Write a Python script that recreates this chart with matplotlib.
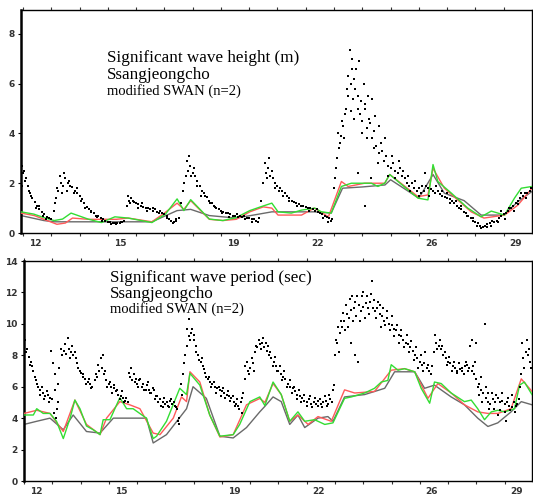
import numpy as np
import matplotlib
matplotlib.use("Agg")
import matplotlib.pyplot as plt

# ================================
# DATA (days of month)
# ================================

# observed Hs (m), 2-hourly from day 12.0
obs_hs = [
    2.4, 2.1, 1.9, 1.6, 1.4, 1.25, 1.1, 0.95, 0.85, 0.75, 0.65, 0.6,
    0.55, 0.9, 1.4, 1.7, 2.0, 1.9, 2.2, 2.0, 1.9, 1.85, 1.7, 1.6,
    1.5, 1.35, 1.2, 1.05, 0.95, 0.85, 0.8, 0.7, 0.7, 0.6, 0.55, 0.5,
    0.45, 0.45, 0.4, 0.4, 0.42, 0.4, 0.45, 0.5, 1.1, 1.3, 1.4, 1.25,
    1.2, 1.15, 1.1, 1.05, 1.0, 1.0, 0.95, 0.9, 0.95, 0.85, 0.9, 0.8,
    0.75, 0.6, 0.55, 0.5, 0.45, 0.5, 0.6, 1.2, 1.7, 2.3, 2.5, 2.7,
    2.4, 2.3, 2.1, 1.9, 1.7, 1.6, 1.45, 1.3, 1.2, 1.1, 1.0, 0.95,
    0.9, 0.85, 0.8, 0.8, 0.75, 0.7, 0.7, 0.75, 0.7, 0.65, 0.7, 0.6,
    0.6, 0.55, 0.55, 0.5, 0.6, 1.3, 2.0, 2.4, 2.6, 2.3, 2.2, 2.0,
    1.9, 1.8, 1.7, 1.6, 1.5, 1.4, 1.3, 1.25, 1.2, 1.15, 1.1, 1.1,
    1.05, 1.0, 1.0, 0.95, 0.9, 0.85, 0.8, 0.75, 0.7, 0.65, 0.6, 0.55,
    1.8, 2.6, 3.4, 3.9, 4.3, 5.0, 5.5, 6.0, 5.4, 5.8, 5.0, 4.8,
    4.5, 5.2, 4.2, 4.6, 3.8, 4.1, 3.5, 3.2, 3.6, 2.9, 3.1, 2.7,
    2.6, 2.8, 2.5, 2.4, 2.6, 2.3, 2.2, 2.0, 1.9, 2.0, 1.8, 1.7,
    1.8, 1.6, 1.7, 1.9, 1.8, 1.75, 1.7, 1.6, 1.7, 1.55, 1.5, 1.45,
    1.4, 1.35, 1.3, 1.2, 1.1, 1.0, 0.95, 0.85, 0.8, 0.7, 0.6, 0.5,
    0.45, 0.4, 0.3, 0.25, 0.3, 0.35, 0.4, 0.5, 0.45, 0.5, 0.6, 0.7,
    0.75, 0.8, 0.9, 1.0, 1.1, 1.2, 1.3, 1.4, 1.5, 1.6, 1.6, 1.7,
]

# scattered extra observations (Hs)
hs_extra_t = [
    11.95, 11.98, 12.05, 12.12, 12.2, 12.3, 12.45, 12.55, 12.7, 12.8,
    13.12, 13.2, 13.3, 13.38, 13.45, 13.55, 13.62, 13.8, 13.9, 14.05, 14.2, 14.4, 14.6, 14.8, 15.1, 15.3, 15.45,
    15.7, 15.78, 15.88, 16.05, 16.2, 16.38, 16.6, 16.8, 17.1, 17.3, 17.4,
    17.7, 17.8, 17.88, 17.95, 18.05, 18.15, 18.3, 18.45, 18.6, 18.8, 19.05, 19.3, 19.6, 19.85, 20.1, 20.3,
    20.55, 20.62, 20.7, 20.8, 20.9, 21.05, 21.2, 21.4, 21.7, 22.1, 22.4, 22.6, 22.8, 22.9,
    23.05, 23.1, 23.15, 23.2, 23.28, 23.35, 23.4, 23.45, 23.5, 23.55, 23.6, 23.62, 23.65, 23.7, 23.72,
    23.78, 23.85, 23.88, 23.95, 24.0, 24.05, 24.1, 24.15, 24.2, 24.28, 24.35, 24.4, 24.45, 24.55, 24.6,
    24.7, 24.8, 24.9, 25.05, 25.15, 25.3, 25.45, 25.6, 25.7, 25.85, 26.0, 26.1, 26.2, 26.35, 26.6, 26.8,
    27.0, 27.1, 27.3, 27.5, 27.7, 27.9, 28.05, 28.2, 28.4, 28.55, 28.8, 28.9, 29.05, 29.2, 29.35, 29.5,
    29.6, 29.8, 29.95, 24.1, 23.85, 24.3,
]
hs_extra_v = [
    2.7, 1.9, 2.5, 2.2, 1.7, 1.5, 1.0, 1.1, 0.7, 0.55,
    1.2, 1.8, 2.3, 1.6, 2.4, 1.7, 2.1, 1.6, 1.8, 1.3, 1.0, 0.9, 0.65, 0.5, 0.35, 0.35, 0.45,
    1.5, 1.2, 1.3, 1.0, 1.2, 0.9, 1.0, 0.8, 0.7, 0.4, 0.55,
    2.0, 2.9, 3.1, 2.3, 2.6, 1.9, 1.5, 1.5, 1.2, 1.05, 0.8, 0.65, 0.65, 0.55, 0.45, 0.45,
    2.8, 2.2, 3.0, 2.5, 1.8, 1.7, 1.5, 1.3, 1.1, 0.9, 0.95, 0.6, 0.45, 0.5,
    2.2, 3.0, 4.0, 3.6, 4.5, 3.8, 4.8, 5.8, 6.3, 7.35, 4.9, 6.6, 7.0, 6.2, 4.6,
    6.6, 5.5, 6.9, 5.3, 4.0, 6.0, 5.0, 3.8, 5.5, 4.4, 5.4, 3.4, 4.7, 2.8, 4.3,
    3.3, 3.8, 2.3, 3.1, 2.2, 2.9, 2.5, 2.3, 1.7, 2.1, 1.5, 1.9, 2.4, 1.5, 1.9, 1.7,
    1.6, 1.2, 1.3, 1.1, 0.7, 0.6, 0.3, 0.2, 0.25, 0.3, 0.45, 0.9, 0.55, 1.0, 0.9, 1.15,
    1.6, 1.4, 1.8, 1.1, 2.4, 2.2,
]

# model Hs (m)
hs_green_t = [11.93, 12.38, 12.74, 13.1, 13.4, 13.7, 14.3, 14.77, 15.25, 15.72, 16.56, 17.04, 17.45, 17.69,
              17.93, 18.59, 19.07, 19.54, 20.02, 20.4, 20.8, 21.02, 21.49, 21.85, 22.32, 22.55, 22.9, 23.26,
              23.61, 24.08, 24.32, 24.55, 24.79, 24.97, 25.26, 25.97, 26.32, 26.5, 26.67, 27.15, 27.73, 28.2,
              28.56, 29.03, 29.38, 29.62, 30.0]
hs_green_v = [0.85, 0.76, 0.62, 0.5, 0.56, 0.8, 0.56, 0.42, 0.65, 0.6, 0.42, 0.76, 1.37, 0.9,
              1.34, 0.56, 0.5, 0.62, 0.9, 1.05, 1.2, 0.85, 0.8, 0.92, 1.0, 0.85, 0.8, 1.87,
              2.0, 2.0, 2.0, 1.87, 2.0, 2.35, 2.07, 1.4, 1.33, 2.75, 2.07, 1.6, 1.0, 0.65,
              0.88, 0.72, 1.4, 1.8, 1.87]
hs_red_t = [11.93, 12.4, 12.74, 13.2, 13.5, 13.75, 14.3, 14.8, 15.3, 15.72, 16.56, 17.0, 17.45, 17.69,
            17.93, 18.59, 19.07, 19.54, 20.02, 20.5, 20.8, 21.02, 21.85, 22.3, 22.8, 23.26, 23.5, 24.08,
            24.79, 24.97, 25.97, 26.32, 26.5, 26.9, 27.85, 28.3, 29.03, 29.5, 30.0]
hs_red_v = [0.8, 0.7, 0.55, 0.35, 0.4, 0.6, 0.55, 0.55, 0.55, 0.6, 0.45, 0.8, 1.2, 0.95,
            1.3, 0.55, 0.5, 0.55, 0.85, 1.05, 1.0, 0.72, 0.72, 1.0, 0.65, 2.07, 1.87, 2.0,
            2.0, 2.35, 1.46, 1.53, 2.6, 1.8, 0.85, 0.6, 0.72, 1.12, 1.8]
hs_gray_t = [11.93, 12.74, 13.1, 14.3, 15.25, 16.56, 17.45, 17.93, 18.59, 19.54, 20.3, 20.8, 21.5, 22.3,
             22.9, 23.3, 24.0, 24.8, 25.0, 26.0, 26.5, 26.9, 27.6, 28.2, 29.0, 29.5, 30.0]
hs_gray_v = [0.7, 0.5, 0.45, 0.45, 0.45, 0.45, 0.9, 0.95, 0.7, 0.6, 0.75, 0.85, 0.85, 0.85,
             0.8, 1.8, 1.85, 1.93, 2.14, 1.4, 2.35, 1.6, 1.3, 0.72, 0.72, 1.26, 1.67]

# observed Tp (sec), 2-hourly from day 12.0
obs_tp = [
    8.6, 8.2, 7.9, 7.6, 7.0, 6.4, 6.0, 5.8, 5.6, 5.4, 5.5, 5.3,
    5.2, 6.8, 4.6, 7.2, 8.0, 8.3, 8.1, 8.4, 8.2, 8.0, 7.8, 7.2,
    6.9, 6.6, 6.5, 6.3, 6.2, 6.0, 6.4, 6.6, 7.0, 7.2, 6.8, 6.4,
    6.2, 6.0, 5.9, 5.7, 5.5, 5.4, 5.3, 5.1, 5.0, 6.6, 6.4, 6.3,
    6.2, 6.4, 6.0, 5.8, 6.1, 5.8, 5.6, 5.8, 5.4, 5.0, 4.8, 5.0,
    4.9, 4.8, 5.1, 4.9, 4.8, 4.6, 4.0, 5.5, 7.5, 8.6, 9.2, 9.4,
    9.0, 8.6, 8.0, 7.6, 7.3, 6.9, 6.5, 6.3, 6.2, 6.0, 5.9, 5.8,
    5.7, 5.6, 5.5, 5.4, 5.3, 5.0, 4.9, 4.8, 5.0, 5.6, 6.5, 7.0,
    7.2, 7.5, 8.2, 8.5, 8.7, 8.8, 8.5, 8.3, 8.0, 7.8, 7.6, 7.3,
    7.0, 6.8, 6.6, 6.5, 6.2, 6.0, 5.9, 5.7, 5.5, 5.4, 5.3, 5.1,
    5.0, 5.2, 4.9, 5.0, 4.9, 5.1, 4.9, 5.0, 5.1, 4.9, 5.2, 5.8,
    8.0, 8.8, 9.4, 9.8, 10.2, 10.6, 10.4, 10.9, 11.0, 10.5, 11.2, 10.8,
    11.1, 11.3, 11.0, 11.4, 11.0, 10.8, 11.0, 10.6, 10.5, 10.2, 10.4, 10.0,
    9.9, 9.7, 9.6, 9.3, 9.2, 9.0, 8.8, 8.7, 8.5, 8.3, 8.0, 7.8,
    7.6, 7.4, 7.5, 7.2, 7.0, 7.3, 8.2, 8.8, 8.6, 8.4, 8.0, 7.8,
    7.6, 7.5, 7.3, 7.2, 7.0, 7.1, 7.0, 7.3, 7.4, 7.2, 7.0, 6.8,
    6.5, 6.2, 5.8, 5.6, 5.3, 5.0, 4.9, 5.2, 5.0, 5.3, 5.0, 5.1,
    4.9, 5.0, 4.8, 4.7, 5.0, 4.8, 5.2, 6.8, 7.8, 8.2, 8.0, 7.6,
]

tp_extra_t = [
    12.02, 12.05, 12.12, 12.2, 12.28, 12.38, 12.45, 12.55, 12.62, 12.7, 12.8, 12.88,
    12.95, 13.02, 13.05, 13.1, 13.12, 13.2, 13.22, 13.3, 13.45, 13.55, 13.62, 13.7, 13.8, 13.88, 13.98,
    14.1, 14.2, 14.3, 14.38, 14.55, 14.62, 14.72, 14.8, 14.88, 14.95, 15.05, 15.12, 15.2, 15.3, 15.38,
    15.45, 15.55, 15.6, 15.72, 15.8, 15.88, 15.95, 16.03, 16.12, 16.2, 16.3, 16.38, 16.45, 16.55, 16.62,
    16.72, 16.8, 16.9, 16.97, 17.05, 17.12, 17.2, 17.3, 17.38, 17.45, 17.48, 17.55, 17.62, 17.7, 17.78,
    17.85, 17.88, 17.95, 18.03, 18.1, 18.2, 18.3, 18.38, 18.45, 18.55, 18.62, 18.72, 18.8, 18.9, 18.97,
    19.05, 19.12, 19.2, 19.3, 19.38, 19.45, 19.52, 19.6, 19.7, 19.72, 19.8, 19.88, 19.95, 20.05, 20.12,
    20.2, 20.3, 20.38, 20.45, 20.55, 20.62, 20.7, 20.8, 20.88, 20.95, 21.05, 21.12, 21.2, 21.3, 21.4,
    21.48, 21.55, 21.65, 21.72, 21.8, 21.9, 22.0, 22.12, 22.2, 22.3, 22.4, 22.48, 22.55, 22.65, 22.72,
    22.8, 22.9, 22.95,
    23.03, 23.1, 23.13, 23.2, 23.28, 23.35, 23.4, 23.45, 23.52, 23.55, 23.6, 23.65, 23.7, 23.72, 23.78,
    23.82, 23.88, 23.95, 24.0, 24.05, 24.12, 24.2, 24.28, 24.3, 24.38, 24.45, 24.52, 24.6, 24.62, 24.7,
    24.78, 24.85, 24.95, 25.02, 25.1, 25.2, 25.28, 25.35, 25.45, 25.55, 25.62, 25.7, 25.8, 25.88, 25.95,
    26.05, 26.12, 26.2, 26.3, 26.38, 26.55, 26.62, 26.7, 26.8, 26.88, 26.95, 27.05, 27.15, 27.22, 27.3,
    27.4, 27.48, 27.55, 27.62, 27.7, 27.78, 27.85, 27.88, 27.95, 28.0, 28.05, 28.1, 28.15, 28.2, 28.3,
    28.35, 28.4, 28.45, 28.55, 28.62, 28.7, 28.78, 28.85, 28.92, 29.0, 29.05, 29.12, 29.2, 29.28, 29.38,
    29.45, 29.55, 29.62, 29.7, 29.78, 29.88, 29.95,
]
tp_extra_v = [
    9.0, 8.2, 8.4, 7.4, 7.3, 6.6, 6.2, 5.5, 6.0, 5.2, 5.7, 5.0,
    8.3, 7.5, 4.3, 5.8, 4.0, 5.0, 6.2, 8.4, 8.7, 9.1, 7.8, 8.6, 8.2, 7.5, 7.0,
    6.8, 6.2, 6.5, 5.9, 6.8, 7.4, 7.8, 8.0, 7.0, 6.0, 6.3, 5.6, 6.1, 5.8, 5.2,
    5.7, 5.0, 5.3, 6.9, 7.2, 6.8, 6.5, 6.0, 6.5, 6.2, 5.8, 6.3, 5.6, 5.9, 5.2,
    5.4, 5.2, 4.7, 5.3, 5.0, 4.7, 5.2, 5.0, 4.7, 3.8, 3.6, 6.2, 6.8, 8.0, 9.7,
    10.3, 9.0, 9.7, 9.3, 8.2, 7.7, 7.8, 7.1, 6.6, 6.6, 6.0, 6.3, 5.6, 6.0, 5.4,
    5.9, 5.3, 5.7, 5.1, 5.4, 4.8, 5.2, 4.6, 4.3, 5.3, 7.3, 7.6, 6.8, 7.8, 7.0,
    8.6, 9.0, 8.4, 9.1, 8.8, 8.6, 8.2, 7.3, 7.9, 7.0, 7.3, 6.4, 7.0, 6.0, 6.4,
    5.6, 6.0, 5.2, 5.8, 5.0, 5.5, 4.8, 5.4, 4.7, 5.3, 4.8, 5.2, 4.7, 5.4, 4.8,
    5.5, 5.0, 6.1,
    9.0, 9.8, 8.2, 10.2, 10.7, 9.6, 11.2, 9.8, 11.6, 8.8, 11.8, 10.2, 11.4, 8.0, 11.8,
    7.6, 10.2, 11.8, 12.0, 10.4, 11.8, 10.6, 11.9, 12.7, 11.5, 10.4, 11.4, 11.2, 9.8, 11.0,
    9.9, 10.8, 9.6, 10.5, 9.2, 9.9, 8.8, 9.6, 8.5, 9.3, 8.2, 8.9, 7.7, 8.5, 7.2,
    8.0, 7.0, 8.2, 7.4, 6.8, 9.3, 8.4, 9.0, 8.6, 8.2, 7.4, 7.9, 7.0, 7.6, 6.9,
    7.5, 7.2, 6.8, 7.6, 7.0, 8.6, 9.0, 7.3, 7.6, 8.8, 6.0, 5.5, 6.6, 5.0, 10.0,
    6.0, 5.6, 4.6, 5.6, 4.6, 5.5, 4.2, 4.5, 5.6, 4.4, 3.8, 5.3, 4.5, 5.5, 4.4,
    4.9, 6.0, 8.8, 7.2, 9.0, 8.4, 7.2,
]

# model Tp (sec)
tp_green_t = [12.0, 12.33, 12.45, 12.68, 12.92, 13.15, 13.39, 13.63, 13.8, 13.98, 14.21, 14.45, 14.69,
              14.8, 15.04, 15.39, 15.63, 15.86, 16.33, 16.57, 16.69, 17.04, 17.51, 17.75, 17.87, 18.22,
              18.57, 18.93, 19.4, 19.63, 19.99, 20.34, 20.52, 20.81, 21.1, 21.4, 21.69, 21.93, 22.28,
              22.64, 22.93, 23.34, 23.58, 24.05, 24.4, 24.64, 24.87, 24.99, 25.23, 25.46, 25.82, 26.05,
              26.35, 26.52, 26.76, 27.11, 27.58, 27.82, 28.05, 28.29, 28.53, 28.76, 29.0, 29.35, 29.53,
              29.7, 29.97]
tp_green_v = [4.2, 4.2, 4.6, 4.3, 4.3, 3.8, 2.7, 4.0, 5.15, 4.6, 3.5, 3.26, 2.95,
              3.9, 3.9, 5.3, 4.6, 4.6, 4.0, 2.7, 2.85, 3.8, 5.9, 5.5, 6.85, 6.1,
              4.2, 2.85, 2.95, 3.6, 5.05, 5.35, 4.8, 6.3, 5.5, 3.8, 4.4, 3.8, 3.9,
              3.6, 3.7, 5.26, 5.35, 5.6, 5.9, 6.3, 6.4, 7.4, 7.05, 7.15, 6.95, 5.9,
              4.95, 6.3, 6.2, 5.6, 5.05, 5.15, 4.6, 3.9, 4.4, 4.5, 4.4, 4.6, 6.1,
              6.3, 5.5]
tp_red_t = [12.0, 12.45, 12.92, 13.39, 13.8, 14.21, 14.69, 14.92, 15.39, 15.74, 16.1, 16.57, 16.81,
            17.28, 17.57, 17.75, 17.87, 18.22, 18.57, 18.93, 19.4, 19.87, 20.34, 20.52, 20.81, 21.1,
            21.4, 21.69, 22.05, 22.4, 22.87, 23.34, 23.7, 24.4, 24.99, 25.46, 25.82, 26.29, 26.64,
            27.11, 27.58, 28.05, 28.41, 28.76, 29.23, 29.59, 29.97]
tp_red_v = [4.3, 4.5, 4.3, 3.15, 5.15, 3.6, 2.95, 4.0, 5.05, 4.85, 4.6, 3.05, 2.95,
            4.0, 5.35, 5.05, 6.95, 6.3, 4.2, 2.8, 2.95, 4.85, 5.25, 5.0, 6.2, 5.5,
            3.8, 4.2, 3.6, 4.1, 3.8, 5.8, 5.6, 5.7, 7.05, 7.15, 6.95, 5.26, 6.2,
            5.6, 4.85, 4.4, 4.3, 4.3, 4.6, 6.5, 5.7]
tp_gray_t = [12.0, 12.45, 12.92, 13.39, 13.74, 14.21, 14.69, 15.16, 16.33, 16.57, 17.04, 17.75, 17.98,
             18.45, 18.93, 19.4, 19.87, 20.34, 20.52, 20.81, 21.1, 21.4, 21.69, 21.93, 22.4, 22.75,
             22.93, 23.34, 24.05, 24.76, 25.11, 25.82, 26.17, 26.52, 27.11, 27.58, 28.05, 28.41, 28.76,
             29.23, 29.59, 29.97]
tp_gray_v = [3.6, 3.8, 4.0, 3.26, 4.2, 3.15, 3.05, 4.0, 4.0, 2.42, 2.95, 4.6, 6.0,
             5.26, 2.85, 2.74, 3.4, 4.4, 4.75, 5.35, 5.05, 3.6, 4.2, 3.4, 4.0, 4.1,
             3.8, 5.35, 5.5, 5.9, 6.95, 6.95, 5.9, 6.1, 5.35, 4.85, 4.0, 3.47, 3.7,
             4.4, 5.05, 4.85]

day_ticks = list(range(12, 30))
day_labels = [12, 15, 19, 22, 26, 29]

# ================================
# STYLE
# ================================

C_GREEN = "#33dd33"
C_RED = "#ff5a5a"
C_GRAY = "#6a6a6a"
SERIF = "Liberation Serif"

W, H = 533, 498


def px_box(left, top, right, bottom):
    return [left / W, 1 - bottom / H, (right - left) / W, (bottom - top) / H]


def style_axis(ax, xlim, ylim, yticks):
    ax.set_xlim(*xlim)
    ax.set_ylim(*ylim)
    ax.set_yticks(yticks)
    ax.set_xticks(day_ticks, [""] * len(day_ticks))
    ax.set_xticks([d + 0.43 for d in day_labels], [str(d) for d in day_labels], minor=True)
    ax.tick_params(axis="x", which="major", length=2.5, width=0.8, top=True, color="#333333")
    ax.tick_params(axis="x", which="minor", length=0, pad=4, labelsize=6.5, labelcolor="#333333")
    ax.tick_params(axis="y", length=2.5, width=0.8, pad=2, labelsize=6.5, labelcolor="#333333")
    for lab in ax.get_xticklabels(minor=True) + ax.get_yticklabels():
        lab.set_fontweight("bold")
    for side in ["top", "right", "bottom"]:
        ax.spines[side].set_linewidth(1.0)
    ax.spines["left"].set_linewidth(1.8)


def draw_panel(ax, obs, ex_t, ex_v, gt, gv, rt, rv, kt, kv):
    t = 12.0 + np.arange(len(obs)) / 12.0
    ax.plot(kt, kv, color=C_GRAY, lw=1.0, zorder=2)
    ax.plot(rt, rv, color=C_RED, lw=1.0, zorder=3)
    ax.plot(gt, gv, color=C_GREEN, lw=1.0, zorder=4)
    ax.plot(t, obs, "s", color="black", ms=2.0, mew=0, zorder=5)
    ax.plot(ex_t, ex_v, "s", color="black", ms=2.0, mew=0, zorder=5)


# ================================
# FIGURE
# ================================

fig = plt.figure(figsize=(W / 100, H / 100), dpi=100)

ax1 = fig.add_axes(px_box(21, 10, 532, 233))
draw_panel(ax1, obs_hs, hs_extra_t, hs_extra_v, hs_green_t, hs_green_v,
           hs_red_t, hs_red_v, hs_gray_t, hs_gray_v)
style_axis(ax1, (11.93, 30.0), (0, 8.96), [0, 2, 4, 6, 8])

ax2 = fig.add_axes(px_box(24, 261, 532, 481))
draw_panel(ax2, obs_tp, tp_extra_t, tp_extra_v, tp_green_t, tp_green_v,
           tp_red_t, tp_red_v, tp_gray_t, tp_gray_v)
style_axis(ax2, (12.0, 29.97), (0, 14), [0, 2, 4, 6, 8, 10, 12, 14])

# panel captions
fig.text(107 / W, 1 - 58 / H, "Significant wave height (m)", family=SERIF, fontsize=12.3, va="center")
fig.text(107 / W, 1 - 75 / H, "Ssangjeongcho", family=SERIF, fontsize=12.3, va="center")
fig.text(107 / W, 1 - 91.5 / H, "modified SWAN (n=2)", family=SERIF, fontsize=10.5, va="center")

fig.text(110 / W, 1 - 278 / H, "Significant wave period (sec)", family=SERIF, fontsize=12.3, va="center")
fig.text(110 / W, 1 - 294 / H, "Ssangjeongcho", family=SERIF, fontsize=12.3, va="center")
fig.text(110 / W, 1 - 309.5 / H, "modified SWAN (n=2)", family=SERIF, fontsize=10.5, va="center")

fig.savefig("out.png", dpi=100)
